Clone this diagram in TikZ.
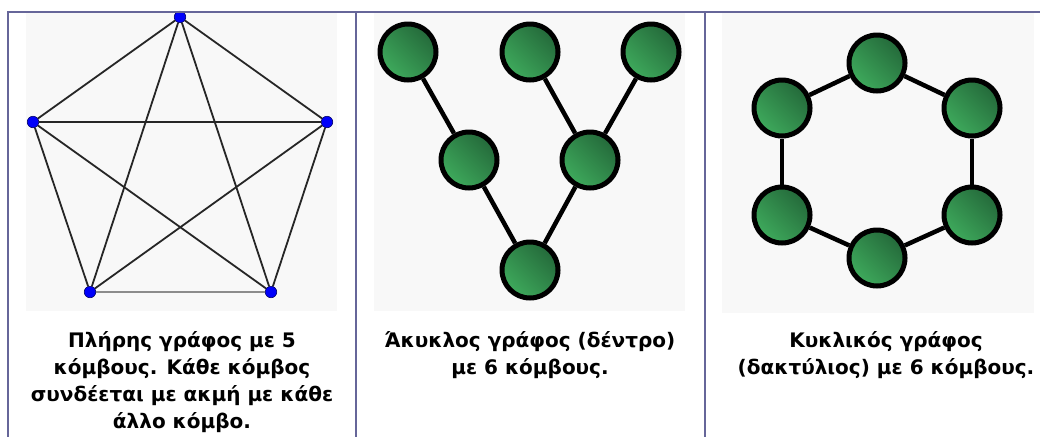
\documentclass[tikz,border=0pt]{standalone}
\usepackage{fontspec}
\setmainfont{DejaVu Sans}
\usepackage{tikz}
\usetikzlibrary{positioning}
\definecolor{framecol}{RGB}{102, 102, 153}
\definecolor{panelgray}{RGB}{248, 248, 248}
\definecolor{nodeblue}{RGB}{0, 0, 250}
\definecolor{greenlight}{RGB}{62, 170, 92}
\definecolor{greendark}{RGB}{36, 105, 58}

\begin{document}
\begin{tikzpicture}[
    x=1pt, y=-1pt,
    panel/.style={fill=panelgray, draw=none},
    frame/.style={draw=framecol, line width=2pt},
    dot/.style={circle, fill=nodeblue, draw=blue!40!black, line width=0.6pt,
                minimum size=11.5pt, inner sep=0pt},
    kedge/.style={draw=black!85, line width=1.8pt},
    gnode/.style={circle, draw=black, line width=5pt, minimum size=56pt,
                  inner sep=0pt, top color=greendark, bottom color=greenlight,
                  shading angle=-45},
    link/.style={draw=black, line width=4.5pt},
    caption/.style={anchor=north, align=center, inner sep=0pt,
                    font=\fontsize{20}{27}\selectfont\bfseries}
]
\useasboundingbox (0,0) rectangle (1040,437);

%% Grey backgrounds of the three panels
\fill[panel] (26,13)  rectangle (337,311);
\fill[panel] (374,13) rectangle (685,311);
\fill[panel] (722,13) rectangle (1034,313);

%% ── Complete graph K5 ──────────────────────────────────────────
\node[dot] (k1) at (180,17)  {};
\node[dot] (k2) at (327,122) {};
\node[dot] (k3) at (271,292) {};
\node[dot] (k4) at (90,292)  {};
\node[dot] (k5) at (33,122)  {};

\foreach \a/\b in {k1/k2, k1/k3, k1/k4, k1/k5, k2/k4, k2/k5, k3/k5, k2/k3, k4/k5}
    \draw[kedge] (\a) -- (\b);
\draw[kedge, draw=black!45] (k4) -- (k3);

%% ── Tree with six nodes ────────────────────────────────────────
\node[gnode] (t1) at (408,52)  {};
\node[gnode] (t2) at (530,52)  {};
\node[gnode] (t3) at (651,52)  {};
\node[gnode] (t4) at (469,160) {};
\node[gnode] (t5) at (590,160) {};
\node[gnode] (t6) at (530,270) {};

\draw[link] (t1) -- (t4);
\draw[link] (t2) -- (t5);
\draw[link] (t3) -- (t5);
\draw[link] (t4) -- (t6);
\draw[link] (t5) -- (t6);

%% ── Ring with six nodes ────────────────────────────────────────
\node[gnode] (r1) at (877,63)  {};
\node[gnode] (r2) at (972,108) {};
\node[gnode] (r3) at (972,215) {};
\node[gnode] (r4) at (877,258) {};
\node[gnode] (r5) at (782,215) {};
\node[gnode] (r6) at (782,108) {};

\foreach \a/\b in {r1/r2, r2/r3, r3/r4, r4/r5, r5/r6, r6/r1}
    \draw[link] (\a) -- (\b);

%% Captions
\node[caption] (cap1) at (182,331) {Πλήρης γράφος με 5\\κόμβους. Κάθε κόμβος\\συνδέεται με ακμή με κάθε\\άλλο κόμβο.};
\node[caption] (cap2) at (530,331) {Άκυκλος γράφος (δέντρο)\\με 6 κόμβους.};
\node[caption] (cap3) at (886,331) {Κυκλικός γράφος\\(δακτύλιος) με 6 κόμβους.};

%% Table frame
\draw[frame] (7,12) -- (1040,12);
\draw[frame] (8,12) -- (8,437);
\draw[frame] (356,12) -- (356,437);
\draw[frame] (705,12) -- (705,437);

\end{tikzpicture}
\end{document}
